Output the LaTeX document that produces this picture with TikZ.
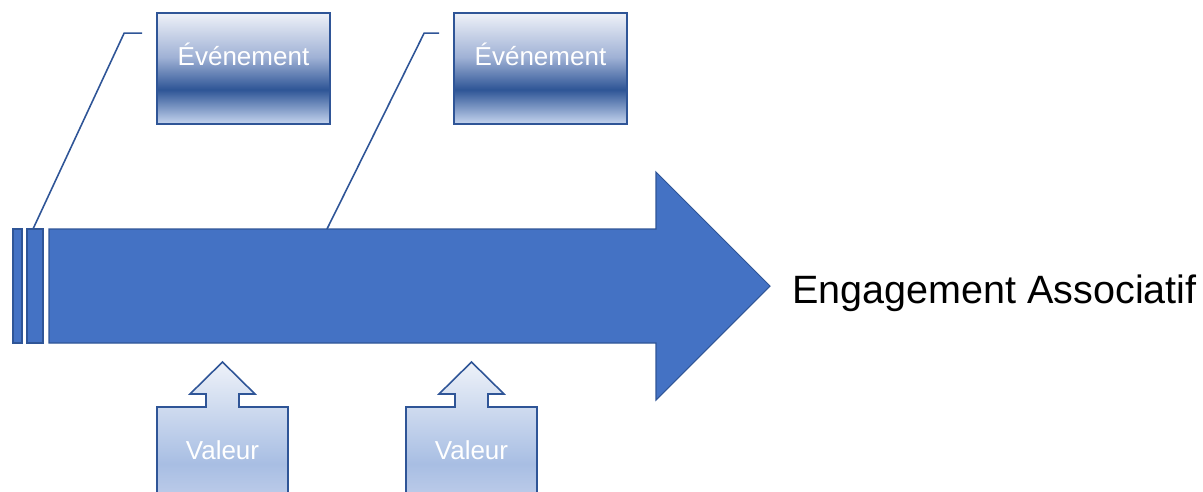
\documentclass[tikz,border=0pt]{standalone}
\usepackage{fontspec}
\setmainfont{Liberation Sans}
\usepackage{xcolor}
\usetikzlibrary{positioning,calc}

\definecolor{arrowblue}{HTML}{4472C4}
\definecolor{edgeblue}{HTML}{2F5597}
\definecolor{evtop}{HTML}{EEF1F8}
\definecolor{evmid}{HTML}{9FB1D5}
\definecolor{evdark}{HTML}{2E5596}
\definecolor{evbot}{HTML}{C6D5EF}
\definecolor{valtop}{HTML}{EEF2F9}
\definecolor{valdark}{HTML}{A8BEE3}
\definecolor{valbot}{HTML}{BCCBE9}

\pgfdeclareverticalshading{evshade}{100bp}{color(0bp)=(evbot); color(25bp)=(evbot); color(40.5bp)=(evdark); color(55bp)=(evmid); color(75bp)=(evtop); color(100bp)=(evtop)}
\pgfdeclareverticalshading{valshade}{100bp}{color(0bp)=(valbot); color(25bp)=(valbot); color(37bp)=(valdark); color(75bp)=(valtop); color(100bp)=(valtop)}

\tikzset{
	evbox/.style={draw=edgeblue, line width=1pt, shading=evshade, minimum width=3.46cm, minimum height=2.22cm, inner sep=0pt},
	evtext/.style={text=white, font=\fontsize{14.8}{17}\selectfont, inner sep=0pt, anchor=base},
	lead/.style={draw=edgeblue, line width=0.9pt},
	bar/.style={fill=arrowblue, draw=edgeblue, line width=0.6pt}
}

\begin{document}
\begin{tikzpicture}[x=0.02cm,y=-0.02cm]
			\useasboundingbox (0,0) rectangle (1203,491);
			
			% time bar
			\draw[bar] (13,229) rectangle (22,343);
			\draw[bar] (27,229) rectangle (43,343);
			\draw[bar] (49,229) -- (656,229) -- (656,172) -- (770,286) -- (656,400) -- (656,343) -- (49,343) -- cycle;
			
			\coordinate (hit1) at (33,229);
			\coordinate (hit2) at (327,229);
			
			\node[anchor=base west, inner sep=0pt, font=\fontsize{22.5}{27}\selectfont] (goal) at (792,303) {Engagement Associatif};
			
			% events
			\node[evbox] (ev1) at (243.5,68.5) {};
			\node[evbox] (ev2) at (540.5,68.5) {};
			\node[evtext] at (243.5,65) {Événement};
			\node[evtext] at (540.5,65) {Événement};
			
			\draw[lead] ($(ev1.north west)+(-14,21)$) -- ++(-18,0) -- (hit1);
			\draw[lead] ($(ev2.north west)+(-14,21)$) -- ++(-15,0) -- (hit2);
			
			% values
			\foreach \vx/\nm in {157/val1, 406/val2} {
				\draw[draw=edgeblue, line width=0.9pt, shading=valshade]
					(\vx,496) -- (\vx,407) -- (\vx+49,407) -- (\vx+49,394) -- (\vx+33,394)
					-- (\vx+65.5,362) -- (\vx+98,394) -- (\vx+82,394) -- (\vx+82,407)
					-- (\vx+131,407) -- (\vx+131,496) -- cycle;
				\node[evtext] (\nm) at (\vx+65.5,459) {Valeur};
			}
		\end{tikzpicture}
\end{document}
